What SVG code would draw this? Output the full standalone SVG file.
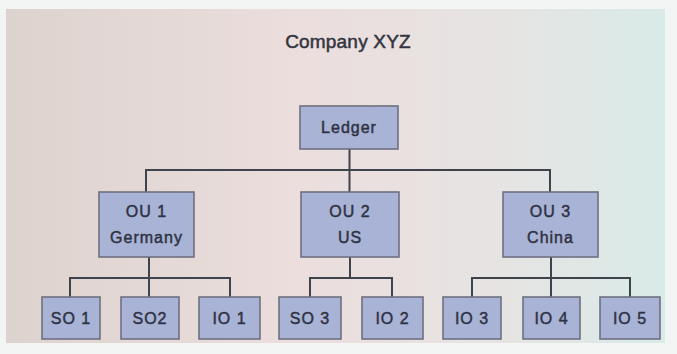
<svg xmlns="http://www.w3.org/2000/svg" width="677" height="354" viewBox="0 0 677 354">
<defs>
<linearGradient id="bg" x1="0" y1="0" x2="1" y2="0">
<stop offset="0" stop-color="#ddd3ce"/>
<stop offset="0.45" stop-color="#ebdedd"/>
<stop offset="0.75" stop-color="#e6e4e3"/>
<stop offset="1" stop-color="#d9ebe8"/>
</linearGradient>
<style>
.box{fill:#a8b3d5;stroke:#6e7080;stroke-width:1.6}
.lbl{font-family:"Liberation Sans",Arial,sans-serif;font-size:16px;fill:#2f3244;stroke:#2f3244;stroke-width:0.45;text-anchor:middle;letter-spacing:1px}
.title{font-family:"Liberation Sans",Arial,sans-serif;font-size:19px;fill:#33353e;stroke:#33353e;stroke-width:0.5;text-anchor:middle;letter-spacing:0.2px}
.con{fill:none;stroke:#3f434c;stroke-width:2}
</style>
</defs>
<rect x="0" y="0" width="677" height="354" fill="#f3f5f5"/>
<rect x="6" y="9" width="659" height="334" fill="url(#bg)"/>
<text class="title" x="348" y="48">Company XYZ</text>
<g id="connectors">
<path class="con" d="M349.5 149 V192"/>
<path class="con" d="M146 192 V170 H550 V192"/>
<path class="con" d="M149 257 V297"/>
<path class="con" d="M70 297 V278 H230 V297"/>
<path class="con" d="M350 257 V278"/>
<path class="con" d="M310 297 V278 H392 V297"/>
<path class="con" d="M551 257 V297"/>
<path class="con" d="M472 297 V278 H630 V297"/>
</g>
<g id="ledger"><rect class="box" x="300" y="106" width="98" height="43"/><text class="lbl" x="349" y="133">Ledger</text></g>
<g id="ou1"><rect class="box" x="99" y="192" width="95" height="65"/><text class="lbl" x="146.5" y="217">OU 1</text><text class="lbl" x="146.5" y="243">Germany</text></g>
<g id="ou2"><rect class="box" x="301" y="192" width="98" height="65"/><text class="lbl" x="350" y="217">OU 2</text><text class="lbl" x="350" y="243">US</text></g>
<g id="ou3"><rect class="box" x="503" y="192" width="95" height="65"/><text class="lbl" x="550.5" y="217">OU 3</text><text class="lbl" x="550.5" y="243">China</text></g>
<g id="so1"><rect class="box" x="42" y="297" width="58" height="42"/><text class="lbl" x="71" y="324">SO 1</text></g>
<g id="so2"><rect class="box" x="121" y="297" width="58" height="42"/><text class="lbl" x="150" y="324">SO2</text></g>
<g id="io1"><rect class="box" x="199" y="297" width="61" height="42"/><text class="lbl" x="229.5" y="324">IO 1</text></g>
<g id="so3"><rect class="box" x="279" y="297" width="62" height="42"/><text class="lbl" x="310" y="324">SO 3</text></g>
<g id="io2"><rect class="box" x="362" y="297" width="61" height="42"/><text class="lbl" x="392.5" y="324">IO 2</text></g>
<g id="io3"><rect class="box" x="443" y="297" width="58" height="42"/><text class="lbl" x="472" y="324">IO 3</text></g>
<g id="io4"><rect class="box" x="523" y="297" width="57" height="42"/><text class="lbl" x="551.5" y="324">IO 4</text></g>
<g id="io5"><rect class="box" x="600" y="297" width="60" height="42"/><text class="lbl" x="630" y="324">IO 5</text></g>
</svg>
